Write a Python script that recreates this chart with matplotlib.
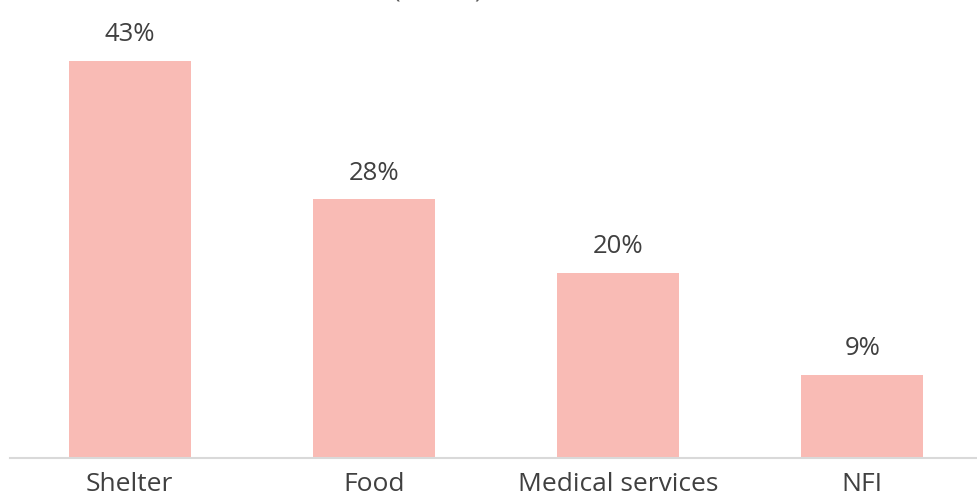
import matplotlib.pyplot as plt

categories = ['Shelter', 'Food', 'Medical services', 'NFI']
values = [43, 28, 20, 9]
value_labels = ['43%', '28%', '20%', '9%']


def main():
    plt.rcParams['font.family'] = ['Open Sans', 'DejaVu Sans']
    fig = plt.figure(figsize=(9.77, 4.95), dpi=100)
    ax = fig.add_axes([10 / 977, 37 / 495, 967 / 977, 458 / 495])
    x = range(len(categories))
    bars = ax.bar(x, values, width=0.5, color='#F9BBB5')
    for b, lab in zip(bars, value_labels):
        ax.annotate(lab, (b.get_x() + b.get_width() / 2, b.get_height()),
                    xytext=(0, 10), textcoords='offset points',
                    ha='center', va='bottom', fontsize=18.5, color='#404040')
    ax.set_xlim(-0.49, 3.47)
    ax.set_ylim(0, 49.6)
    ax.set_xticks(list(x))
    ax.set_xticklabels(categories, fontsize=19, color='#404040')
    ax.tick_params(axis='x', length=0, pad=10)
    ax.set_yticks([])
    for s in ['top', 'right', 'left']:
        ax.spines[s].set_visible(False)
    ax.spines['bottom'].set_color('#D9D9D9')
    ax.spines['bottom'].set_linewidth(1.5)
    # title is cut off at the top edge, only the bracket bottoms show
    fig.text(0.448, 1.02, '(           )', ha='center', va='center',
             fontsize=18.5, color='#595959')
    fig.savefig('out.png', dpi=100)


if __name__ == '__main__':
    main()
